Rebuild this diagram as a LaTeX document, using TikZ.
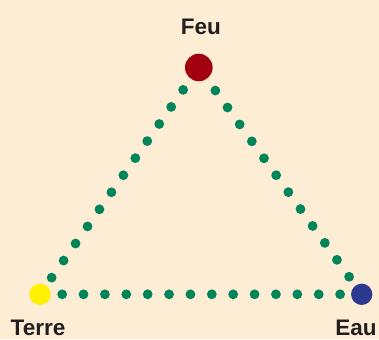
\documentclass[tikz,border=0pt]{standalone}
\usepackage{fontspec}
\setmainfont{Liberation Sans}
\definecolor{paper}{HTML}{FDEDD4}
\definecolor{ink}{HTML}{231F20}
\definecolor{dotgreen}{HTML}{00855A}
\definecolor{firered}{HTML}{A3000F}
\definecolor{earthyellow}{HTML}{FFF100}
\definecolor{waterblue}{HTML}{2B3990}
\begin{document}
\begin{tikzpicture}[
x=1pt, y=-1pt,
element/.style={circle, inner sep=0pt, minimum size=21.3pt},
caption/.style={font=\fontsize{22.5}{26}\selectfont\bfseries, text=ink, inner sep=0pt, anchor=base},
link/.style={draw=dotgreen, line width=9.8pt, line cap=round, dash pattern=on 0pt off #1}
]
\useasboundingbox (0,0) rectangle (379,339);
\fill[paper] (0,0) rectangle (379,339);

\node[element, fill=firered, minimum size=27.6pt] (feu) at (198.8,67.5) {};
\node[element, fill=earthyellow] (terre) at (40,294.3) {};
\node[element, fill=waterblue] (eau) at (361.7,294.3) {};

\node[caption] (feu caption) at (200.8,35) {Feu};
\node[caption] (terre caption) at (38,335.5) {Terre};
\node[caption] (eau caption) at (356,335.5) {Eau};

\draw[link=20.84pt, shorten <=13.3pt] (feu) -- (terre);
\draw[link=20.84pt, shorten <=14.4pt] (feu) -- (eau);
\draw[link=21.38pt, shorten <=11.3pt] (terre) -- (eau);
\end{tikzpicture}
\end{document}
